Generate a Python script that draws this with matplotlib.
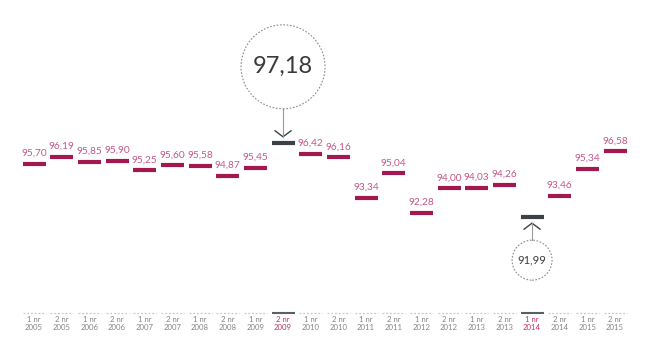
import numpy as np
import matplotlib
matplotlib.use("Agg")
import matplotlib.pyplot as plt
from matplotlib.patches import Ellipse

plt.rcParams['font.family'] = ['Lato', 'DejaVu Sans']

# data
halves = ["1 nr", "2 nr"] * 11
years = [str(y) for y in range(2005, 2016) for _ in range(2)]
values = [95.70, 96.19, 95.85, 95.90, 95.25, 95.60, 95.58, 94.87, 95.45, 97.18, 96.42,
          96.16, 93.34, 95.04, 92.28, 94.00, 94.03, 94.26, 91.99, 93.46, 95.34, 96.58]
max_idx = 9
min_idx = 18

BAR = '#a3184f'
LABEL = '#c4578a'
DARK = '#3b4146'
GREY = '#858585'

W, H = 650, 356
fig = plt.figure(figsize=(W / 100, H / 100), dpi=100)
ax = fig.add_axes([0, 0, 1, 1])
ax.axis('off')

# pixel scaling: first bar at x=34, step 27.67 px; 95.70 at y=164, 14.33 px per unit
px_x = 27.67
px_y = 14.33
ax.set_xlim(-34 / px_x, (W - 34) / px_x)
ax.set_ylim(95.70 - (H - 164) / px_y, 95.70 + 164 / px_y)

def fmt(v):
    return f"{v:.2f}".replace('.', ',')

x = np.arange(len(values))
hw = 11.5 / px_x
for i, v in enumerate(values):
    special = i in (max_idx, min_idx)
    ax.hlines(v, i - hw, i + hw, color=DARK if special else BAR, lw=3.0)
    if not special:
        ax.text(i, v + 6 / px_y, fmt(v), ha='center', va='bottom', fontsize=7.3, color=LABEL)

# callouts
def callout(i, v, up, radius_px, gap_px, fs):
    sign = 1 if up else -1
    tip = v + sign * 6 / px_y
    arm = v + sign * 12 / px_y
    ax.plot([i - 8 / px_x, i, i + 8 / px_x], [arm, tip, arm], color=DARK, lw=1.0)
    cy = v + sign * (gap_px + radius_px) / px_y
    ax.plot([i, i], [tip, cy - sign * radius_px / px_y], color='#9a9a9a', lw=0.8)
    ax.add_patch(Ellipse((i, cy), 2 * radius_px / px_x, 2 * radius_px / px_y,
                         fill=False, ls=(0, (1.5, 1.5)), lw=0.8, ec='#8a8a8a'))
    ax.text(i, cy, fmt(v), ha='center', va='center', fontsize=fs, color='#3a3a3a')

callout(max_idx, values[max_idx], True, 42, 34, 17)
callout(min_idx, values[min_idx], False, 20, 23, 8)

# x-axis labels
tr = ax.get_xaxis_transform()
line_y = 1 - 313 / H
for i in x:
    special = i in (max_idx, min_idx)
    if special:
        ax.plot([i - hw, i + hw], [line_y, line_y], color='#5a5f63', lw=1.5,
                transform=tr, solid_capstyle='butt')
    else:
        ax.plot([i - hw, i + hw], [line_y, line_y], color='#c8c8c8', lw=0.9,
                ls=(0, (1.5, 1.5)), transform=tr)
    c = '#c2336b' if special else GREY
    ax.text(i, 1 - 320 / H, halves[i], ha='center', va='center', fontsize=5.6, color=c, transform=tr)
    ax.text(i, 1 - 327.5 / H, years[i], ha='center', va='center', fontsize=5.6, color=c, transform=tr)

fig.savefig('out.png', dpi=100)
